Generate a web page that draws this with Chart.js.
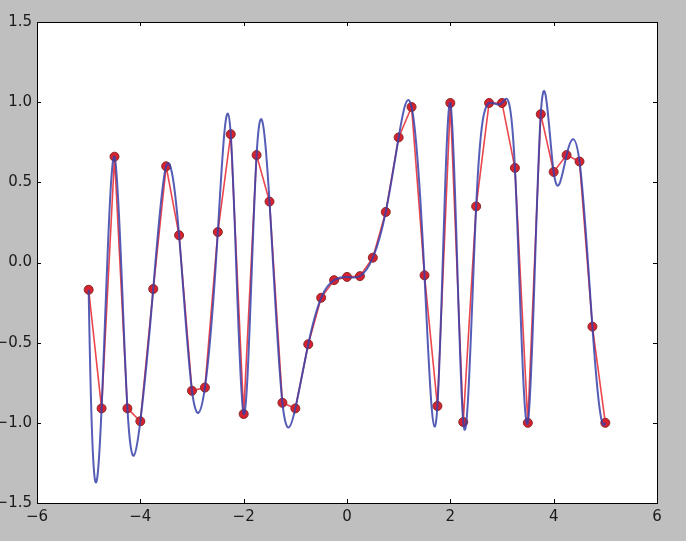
<!DOCTYPE html>
<html>
<head>
<meta charset="utf-8">
<script src="https://cdn.jsdelivr.net/npm/chart.js@4/dist/chart.umd.min.js"></script>
<style>
  body { margin: 0; background: #bfbfbf; }
  #wrap { width: 686px; height: 541px; position: relative; }
</style>
</head>
<body>
<div id="wrap"><canvas id="myChart"></canvas></div>
<script>
// sample points
var xs = [-5, -4.75, -4.5, -4.25, -4, -3.75, -3.5, -3.25, -3, -2.75, -2.5, -2.25, -2, -1.75, -1.5, -1.25, -1, -0.75, -0.5, -0.25,
          0, 0.25, 0.5, 0.75, 1, 1.25, 1.5, 1.75, 2, 2.25, 2.5, 2.75, 3, 3.25, 3.5, 3.75, 4, 4.25, 4.5, 4.75, 5];
var ys = [-0.17, -0.91, 0.66, -0.91, -0.99, -0.165, 0.60, 0.17, -0.80, -0.78, 0.19, 0.80, -0.945, 0.67, 0.38, -0.875, -0.91, -0.51, -0.22, -0.11,
          -0.09, -0.085, 0.03, 0.315, 0.78, 0.97, -0.08, -0.895, 0.995, -0.995, 0.35, 0.995, 0.995, 0.59, -1.0, 0.925, 0.565, 0.67, 0.63, -0.40, -1.0];

var xTicks = [-6, -4, -2, 0, 2, 4, 6];
var yTicks = [-1.5, -1.0, -0.5, 0.0, 0.5, 1.0, 1.5];

var pts = xs.map(function(x, i) { return {x: x, y: ys[i]}; });

function fmt(v, dec) {
    var s = v.toFixed(dec);
    if (s === '-0' || s === '-0.0') s = s.slice(1);
    return s.replace('-', '\u2212');
}

// slopes of a not-a-knot cubic spline through (xs, ys)
function splineSlopes(x, y) {
    var n = x.length, h = [], A = [], b = [], i, j, k;
    for (i = 0; i < n - 1; i++) h.push(x[i + 1] - x[i]);
    for (i = 0; i < n; i++) { A.push(new Array(n).fill(0)); b.push(0); }
    A[0][0] = h[1]; A[0][1] = -(h[0] + h[1]); A[0][2] = h[0];
    for (i = 1; i < n - 1; i++) {
        A[i][i - 1] = h[i - 1];
        A[i][i] = 2 * (h[i - 1] + h[i]);
        A[i][i + 1] = h[i];
        b[i] = 6 * ((y[i + 1] - y[i]) / h[i] - (y[i] - y[i - 1]) / h[i - 1]);
    }
    A[n - 1][n - 3] = h[n - 2]; A[n - 1][n - 2] = -(h[n - 3] + h[n - 2]); A[n - 1][n - 1] = h[n - 3];
    // gaussian elimination with pivoting
    for (k = 0; k < n; k++) {
        var p = k;
        for (i = k + 1; i < n; i++) if (Math.abs(A[i][k]) > Math.abs(A[p][k])) p = i;
        var t = A[k]; A[k] = A[p]; A[p] = t;
        var tb = b[k]; b[k] = b[p]; b[p] = tb;
        for (i = k + 1; i < n; i++) {
            var f = A[i][k] / A[k][k];
            if (f === 0) continue;
            for (j = k; j < n; j++) A[i][j] -= f * A[k][j];
            b[i] -= f * b[k];
        }
    }
    var M = new Array(n).fill(0);
    for (i = n - 1; i >= 0; i--) {
        var s = b[i];
        for (j = i + 1; j < n; j++) s -= A[i][j] * M[j];
        M[i] = s / A[i][i];
    }
    var m = [];
    for (i = 0; i < n - 1; i++) m.push((y[i + 1] - y[i]) / h[i] - h[i] * (2 * M[i] + M[i + 1]) / 6);
    m.push((y[n - 1] - y[n - 2]) / h[n - 2] + h[n - 2] * (M[n - 2] + 2 * M[n - 1]) / 6);
    return m;
}

var slopes = splineSlopes(xs, ys);

// give the smooth dataset the bezier control points of the spline
var spline = {
    id: 'spline',
    beforeDatasetsDraw: function(chart) {
        var meta = chart.getDatasetMeta(0);
        var sx = chart.scales.x, sy = chart.scales.y;
        meta.data.forEach(function(pt, i) {
            var hl = i > 0 ? (xs[i] - xs[i - 1]) / 3 : 0;
            var hr = i < xs.length - 1 ? (xs[i + 1] - xs[i]) / 3 : 0;
            pt.cp1x = sx.getPixelForValue(xs[i] - hl);
            pt.cp1y = sy.getPixelForValue(ys[i] - slopes[i] * hl);
            pt.cp2x = sx.getPixelForValue(xs[i] + hr);
            pt.cp2y = sy.getPixelForValue(ys[i] + slopes[i] * hr);
        });
        meta.dataset._pointsUpdated = true;
        delete meta.dataset._path;
    }
};

// white plot area, frame and inward ticks like matplotlib
var frame = {
    id: 'frame',
    beforeDatasetsDraw: function(chart) {
        var a = chart.chartArea, c = chart.ctx;
        c.save();
        c.fillStyle = '#ffffff';
        c.fillRect(a.left, a.top, a.right - a.left, a.bottom - a.top);
        c.restore();
    },
    afterDatasetsDraw: function(chart) {
        var a = chart.chartArea, c = chart.ctx;
        var sx = chart.scales.x, sy = chart.scales.y;
        c.save();
        c.strokeStyle = '#000000';
        c.lineWidth = 1;
        c.strokeRect(Math.round(a.left) + 0.5, Math.round(a.top) + 0.5,
                     Math.round(a.right - a.left), Math.round(a.bottom - a.top));
        c.beginPath();
        xTicks.forEach(function(v) {
            var px = Math.round(sx.getPixelForValue(v)) + 0.5;
            c.moveTo(px, a.bottom); c.lineTo(px, a.bottom - 4);
            c.moveTo(px, a.top); c.lineTo(px, a.top + 4);
        });
        yTicks.forEach(function(v) {
            var py = Math.round(sy.getPixelForValue(v)) + 0.5;
            c.moveTo(a.left, py); c.lineTo(a.left + 4, py);
            c.moveTo(a.right, py); c.lineTo(a.right - 4, py);
        });
        c.stroke();
        c.restore();
    }
};

var ctx = document.getElementById('myChart').getContext('2d');
var chart = new Chart(ctx, {
    type: 'scatter',
    data: {
        datasets: [{
            label: 'smooth',
            data: pts,
            showLine: true,
            tension: 0.4,
            borderColor: 'rgba(55,65,170,0.85)',
            borderWidth: 2,
            pointRadius: 0,
            order: 0
        }, {
            label: 'points',
            data: pts,
            showLine: true,
            tension: 0,
            borderColor: 'rgba(232,50,55,0.9)',
            borderWidth: 1.6,
            pointRadius: 4.5,
            pointBackgroundColor: '#d6222e',
            pointBorderColor: '#8a2b2b',
            pointBorderWidth: 1,
            order: 1
        }]
    },
    options: {
        responsive: true,
        maintainAspectRatio: false,
        animation: false,
        layout: { padding: { top: 22, right: 29, left: 0, bottom: 0 } },
        plugins: { legend: { display: false }, tooltip: { enabled: false } },
        scales: {
            x: {
                type: 'linear', min: -6, max: 6,
                afterBuildTicks: function(s) { s.ticks = xTicks.map(function(v) { return {value: v}; }); },
                afterFit: function(s) { s.height = 38; },
                grid: { display: false, drawTicks: false },
                border: { display: false },
                ticks: {
                    padding: 5, color: '#1a1a1a', maxRotation: 0,
                    font: { family: 'DejaVu Sans', size: 15 },
                    callback: function(v) { return fmt(v, 0); }
                }
            },
            y: {
                type: 'linear', min: -1.5, max: 1.5,
                afterBuildTicks: function(s) { s.ticks = yTicks.map(function(v) { return {value: v}; }); },
                afterFit: function(s) { s.width = 37; },
                grid: { display: false, drawTicks: false },
                border: { display: false },
                ticks: {
                    padding: 5, color: '#1a1a1a',
                    font: { family: 'DejaVu Sans', size: 15 },
                    callback: function(v) { return fmt(v, 1); }
                }
            }
        }
    },
    plugins: [spline, frame]
});
</script>
</body>
</html>
